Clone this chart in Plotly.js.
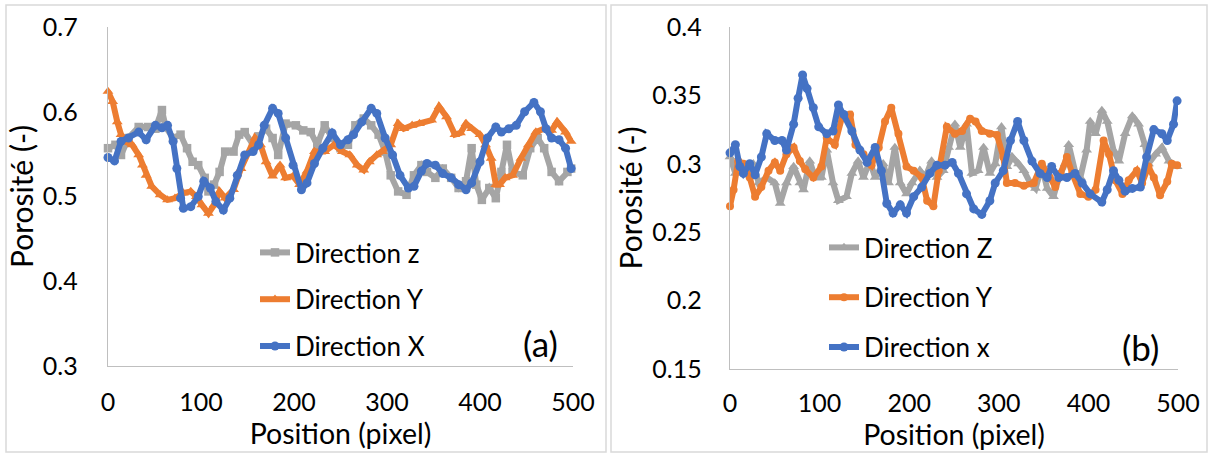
<!DOCTYPE html>
<html>
<head>
<meta charset="utf-8">
<script src="https://cdn.plot.ly/plotly-3.0.1.min.js"></script>
<style>html,body{margin:0;padding:0;background:#fff;}#chart{width:1210px;height:455px;}</style>
</head>
<body>
<div id="chart"></div>
<script>
// ---------- Panel (a) ----------
const aZ_pos = [0,8,14,22,33,43,51,58,62,70,78,85,91,97,104,108,114,120,126,135,141,147,156,162,170,177,183,191,202,210,218,225,233,241,250,258,266,275,283,291,298,304,312,321,329,337,343,352,360,369,377,385,391,396,402,410,417,423,429,435,446,454,462,469,477,485,494,498];
const aZ_val = [0.557,0.561,0.549,0.569,0.582,0.582,0.580,0.602,0.582,0.569,0.573,0.557,0.541,0.537,0.522,0.506,0.514,0.529,0.553,0.553,0.573,0.576,0.561,0.571,0.580,0.569,0.549,0.586,0.584,0.578,0.576,0.561,0.584,0.569,0.557,0.561,0.584,0.592,0.584,0.573,0.553,0.525,0.506,0.502,0.525,0.537,0.529,0.522,0.533,0.522,0.510,0.518,0.557,0.514,0.496,0.510,0.498,0.529,0.561,0.529,0.525,0.557,0.569,0.557,0.529,0.518,0.529,0.533];

const aY_pos = [0,5,10,14,18,26,33,37,41,47,56,64,72,81,89,95,101,108,114,120,126,135,143,152,158,164,170,177,185,191,199,206,214,222,233,243,252,260,268,275,281,289,295,304,312,318,327,335,348,356,364,373,379,385,391,400,406,412,417,421,427,435,444,452,460,469,477,483,492,498];
const aY_val = [0.624,0.612,0.588,0.573,0.565,0.561,0.549,0.537,0.525,0.512,0.502,0.496,0.498,0.504,0.506,0.500,0.490,0.480,0.490,0.506,0.498,0.508,0.533,0.553,0.569,0.561,0.541,0.524,0.537,0.522,0.524,0.514,0.530,0.553,0.553,0.561,0.553,0.549,0.537,0.531,0.541,0.549,0.553,0.561,0.586,0.580,0.584,0.586,0.590,0.606,0.594,0.573,0.575,0.586,0.580,0.573,0.561,0.545,0.514,0.514,0.522,0.525,0.545,0.561,0.576,0.580,0.578,0.588,0.576,0.565];

const aX_pos = [0,7,14,22,33,41,51,58,64,70,74,78,81,89,97,103,110,116,124,131,139,147,156,162,168,177,183,191,199,208,214,222,231,241,250,258,264,273,283,289,298,306,314,323,329,337,343,352,360,369,377,385,391,400,408,417,423,431,439,448,458,465,471,477,485,492,498];
const aX_val = [0.546,0.542,0.565,0.569,0.576,0.567,0.584,0.581,0.584,0.565,0.533,0.498,0.486,0.488,0.500,0.518,0.510,0.494,0.484,0.498,0.525,0.549,0.553,0.561,0.584,0.604,0.598,0.569,0.537,0.508,0.516,0.539,0.557,0.575,0.561,0.567,0.573,0.588,0.604,0.598,0.569,0.549,0.525,0.510,0.512,0.530,0.539,0.537,0.527,0.522,0.514,0.508,0.516,0.541,0.569,0.582,0.576,0.580,0.584,0.600,0.611,0.600,0.580,0.569,0.567,0.557,0.533];

// ---------- Panel (b) ----------
const bZ_pos = [0,6,13,19,26,32,41,50,56,63,71,78,82,89,95,102,108,115,121,130,136,143,149,156,162,171,177,184,190,197,203,212,218,225,231,238,244,251,257,264,270,277,283,290,296,303,309,315,322,328,335,341,348,354,361,367,374,378,385,391,398,402,408,415,421,428,434,441,449,456,463,467,475,482,490,499];
const bZ_val = [0.305,0.293,0.300,0.295,0.300,0.286,0.290,0.286,0.271,0.286,0.298,0.286,0.281,0.302,0.290,0.290,0.310,0.286,0.273,0.276,0.293,0.302,0.290,0.302,0.290,0.300,0.286,0.312,0.286,0.278,0.286,0.295,0.290,0.302,0.290,0.295,0.312,0.329,0.312,0.329,0.293,0.295,0.312,0.293,0.300,0.327,0.298,0.305,0.300,0.295,0.286,0.282,0.298,0.282,0.276,0.290,0.300,0.314,0.295,0.290,0.310,0.331,0.322,0.339,0.331,0.310,0.302,0.322,0.335,0.329,0.314,0.300,0.307,0.312,0.302,0.298];

const bY_pos = [0,4,9,15,22,28,35,43,50,56,63,71,78,84,93,102,108,117,125,134,140,149,158,166,173,180,188,197,205,214,220,227,233,242,251,259,268,274,281,290,298,305,309,318,328,339,348,357,363,369,376,382,391,400,408,417,423,430,438,445,454,460,467,473,480,488,493,499];
const bY_val = [0.269,0.281,0.302,0.300,0.290,0.276,0.283,0.295,0.301,0.295,0.307,0.312,0.302,0.296,0.290,0.298,0.319,0.314,0.334,0.336,0.314,0.307,0.299,0.312,0.331,0.341,0.322,0.298,0.295,0.290,0.273,0.269,0.295,0.327,0.322,0.324,0.333,0.331,0.324,0.322,0.321,0.305,0.286,0.286,0.284,0.286,0.300,0.290,0.283,0.293,0.305,0.293,0.278,0.276,0.281,0.317,0.307,0.288,0.278,0.288,0.295,0.286,0.298,0.290,0.277,0.287,0.300,0.299];

const bX_pos = [0,6,11,15,22,28,35,41,50,58,63,71,76,81,86,93,99,108,115,121,127,136,145,153,162,169,175,182,190,197,205,214,223,231,240,248,255,264,272,281,290,296,305,313,321,328,337,346,354,359,367,376,385,393,402,415,421,428,434,441,449,458,465,473,482,488,495,499];
const bX_val = [0.308,0.314,0.298,0.293,0.300,0.292,0.305,0.322,0.317,0.317,0.310,0.329,0.348,0.365,0.355,0.341,0.327,0.322,0.324,0.343,0.336,0.324,0.310,0.301,0.312,0.295,0.271,0.264,0.270,0.264,0.276,0.283,0.293,0.299,0.299,0.301,0.293,0.278,0.267,0.263,0.273,0.286,0.295,0.317,0.331,0.317,0.302,0.293,0.290,0.298,0.290,0.290,0.293,0.286,0.278,0.272,0.281,0.295,0.288,0.280,0.282,0.283,0.305,0.325,0.322,0.317,0.329,0.346];

// ticks
const xTicks = [0,100,200,300,400,500];
const aYTicks = [0.3,0.4,0.5,0.6,0.7];
const aYTickText = ['0.3','0.4','0.5','0.6','0.7'];
const bYTicks = [0.15,0.2,0.25,0.3,0.35,0.4];
const bYTickText = ['0.15','0.2','0.25','0.3','0.35','0.4'];

const GRAY = '#A5A5A5', ORANGE = '#ED7D31', BLUE = '#4472C4';
const FONT = 'Lato, "Open Sans", sans-serif';
const W = 1210, H = 455;

function tr(x, y, name, color, symbol, msize, xa, ya, legend, grp) {
  return {
    x: x, y: y, name: name, type: 'scatter', mode: 'lines+markers',
    line: {color: color, width: 6},
    marker: {color: color, symbol: symbol, size: msize},
    xaxis: xa, yaxis: ya, legend: legend, legendgroup: grp,
    cliponaxis: false, hoverinfo: 'skip'
  };
}

const data = [
  tr(aZ_pos, aZ_val, 'Direction z', GRAY, 'square', 8.5, 'x', 'y', 'legend', 'a1'),
  tr(aY_pos, aY_val, 'Direction Y', ORANGE, 'triangle-up', 9.5, 'x', 'y', 'legend', 'a2'),
  tr(aX_pos, aX_val, 'Direction X', BLUE, 'circle', 9, 'x', 'y', 'legend', 'a3'),
  tr(bZ_pos, bZ_val, 'Direction Z', GRAY, 'triangle-up', 9.5, 'x2', 'y2', 'legend2', 'b1'),
  tr(bY_pos, bY_val, 'Direction Y', ORANGE, 'circle', 8, 'x2', 'y2', 'legend2', 'b2'),
  tr(bX_pos, bX_val, 'Direction x', BLUE, 'circle', 9, 'x2', 'y2', 'legend2', 'b3')
];

const axisCommon = {
  showgrid: false, zeroline: false, showline: true, linecolor: '#BFBFBF', linewidth: 1.3,
  ticks: '', tickfont: {family: FONT, size: 25, color: '#000'}, fixedrange: true
};

const px = v => v / W, py = v => 1 - v / H;
const XT_FONT = {family: FONT, size: 28.5, color: '#000'};
const YT_FONT = {family: FONT, size: 30, color: '#000'};

const layout = {
  width: W, height: H,
  margin: {l: 0, r: 0, t: 0, b: 0},
  paper_bgcolor: '#fff', plot_bgcolor: 'rgba(0,0,0,0)',
  showlegend: true,
  font: {family: FONT, color: '#000'},
  xaxis: Object.assign({}, axisCommon, {
    domain: [px(108), px(573)], range: [0, 500], tickvals: xTicks, anchor: 'y',
    ticklabelstandoff: 14,
    title: {text: 'Position (pixel)', font: XT_FONT, standoff: 2}
  }),
  yaxis: Object.assign({}, axisCommon, {
    domain: [py(366), py(27)], range: [0.3, 0.7], tickvals: aYTicks, ticktext: aYTickText, anchor: 'x',
    ticklabelstandoff: 24,
    title: {text: 'Porosité (-)', font: YT_FONT, standoff: 0}
  }),
  xaxis2: Object.assign({}, axisCommon, {
    domain: [px(730), px(1178)], range: [0, 500], tickvals: xTicks, anchor: 'y2',
    ticklabelstandoff: 12,
    title: {text: 'Position (pixel)', font: XT_FONT, standoff: 2}
  }),
  yaxis2: Object.assign({}, axisCommon, {
    domain: [py(369), py(27)], range: [0.15, 0.4], tickvals: bYTicks, ticktext: bYTickText, anchor: 'x2',
    ticklabelstandoff: 22,
    title: {text: 'Porosité (-)', font: YT_FONT, standoff: 0}
  }),
  legend: {
    x: px(255), y: py(229), xanchor: 'left', yanchor: 'top',
    bgcolor: 'rgba(0,0,0,0)', traceorder: 'grouped', tracegroupgap: 10,
    font: {family: FONT, size: 26, color: '#000'}, itemwidth: 30
  },
  legend2: {
    x: px(824), y: py(224), xanchor: 'left', yanchor: 'top',
    bgcolor: 'rgba(0,0,0,0)', traceorder: 'grouped', tracegroupgap: 13,
    font: {family: FONT, size: 26, color: '#000'}, itemwidth: 30
  },
  annotations: [
    {xref: 'paper', yref: 'paper', x: px(540), y: py(343), text: '(a)', showarrow: false,
     xanchor: 'center', yanchor: 'middle', font: {family: FONT, size: 35, color: '#000'}},
    {xref: 'paper', yref: 'paper', x: px(1140), y: py(347), text: '(b)', showarrow: false,
     xanchor: 'center', yanchor: 'middle', font: {family: FONT, size: 35, color: '#000'}}
  ],
  shapes: [
    {type: 'rect', xref: 'paper', yref: 'paper', x0: px(6), x1: px(606), y0: py(452), y1: py(5),
     line: {color: '#D9D9D9', width: 1.5}, fillcolor: 'rgba(0,0,0,0)', layer: 'below'},
    {type: 'rect', xref: 'paper', yref: 'paper', x0: px(611), x1: px(1207), y0: py(452), y1: py(5),
     line: {color: '#D9D9D9', width: 1.5}, fillcolor: 'rgba(0,0,0,0)', layer: 'below'}
  ]
};

Plotly.newPlot('chart', data, layout, {staticPlot: true, displayModeBar: false});
</script>
</body>
</html>
